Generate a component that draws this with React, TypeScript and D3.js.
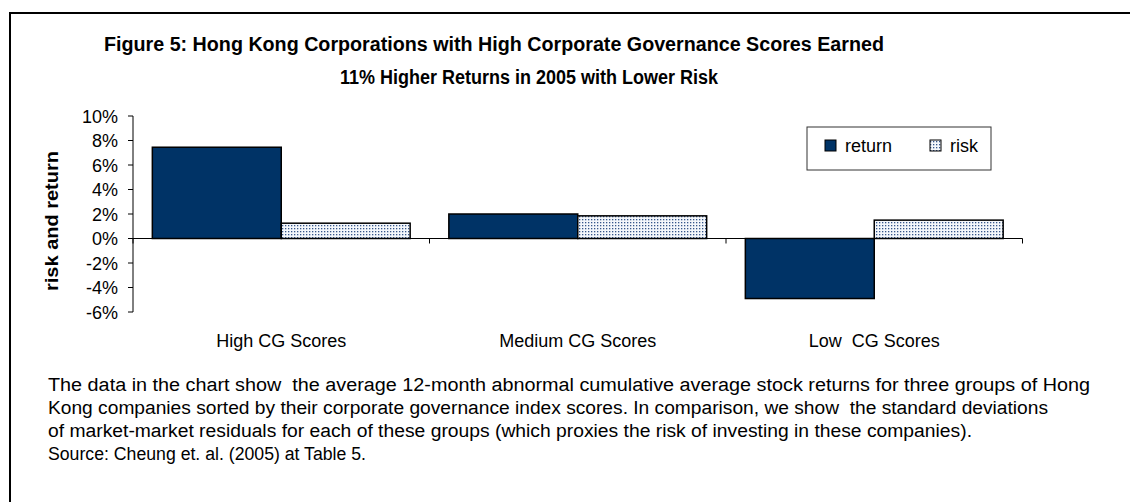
import React from "react";
import * as d3 from "d3";

const categories = ["High CG Scores", "Medium CG Scores", "Low  CG Scores"];
const seriesNames = ["return", "risk"];
const returnValues = [7.45, 2.0, -4.9];
const riskValues = [1.25, 1.85, 1.5];
const yTicks = [-6, -4, -2, 0, 2, 4, 6, 8, 10];
const titleLines = [
  "Figure 5: Hong Kong Corporations with High Corporate Governance Scores Earned",
  "11% Higher Returns in 2005 with Lower Risk",
];
const noteLines = [
  "The data in the chart show  the average 12-month abnormal cumulative average stock returns for three groups of Hong",
  "Kong companies sorted by their corporate governance index scores. In comparison, we show  the standard deviations",
  "of market-market residuals for each of these groups (which proxies the risk of investing in these companies).",
  "Source: Cheung et. al. (2005) at Table 5.",
];

const W = 1130;
const H = 502;
const FONT = "'Liberation Sans', Arial, sans-serif";
const NAVY = "#003366";

export default function App() {
  const plot = { left: 133, right: 1022.5, top: 116, bottom: 312 };
  const x0 = d3.scaleBand<string>().domain(categories).range([plot.left, plot.right]).padding(0);
  const x1 = d3
    .scaleBand<string>()
    .domain(seriesNames)
    .range([0, x0.bandwidth()])
    .paddingInner(0)
    .paddingOuter(0.15);
  const y = d3.scaleLinear().domain([-6, 10]).range([plot.bottom, plot.top]);
  const y0 = y(0);

  const bars: { cat: string; s: string; v: number }[] = [];
  categories.forEach((c, i) => {
    bars.push({ cat: c, s: "return", v: returnValues[i] });
    bars.push({ cat: c, s: "risk", v: riskValues[i] });
  });

  const boundaries = [...categories.map((c) => x0(c) as number), plot.right];

  const titleWidths = [780, 378];
  const titleX = [104, 340];
  const titleY = [51, 84];
  const noteWidths = [1042, 1000, 924, 318];
  const noteY = [391, 414, 437, 460];

  return (
    <svg
      width={W}
      height={H}
      style={{ position: "absolute", left: 0, top: 0, background: "#fff" }}
      fontFamily={FONT}
    >
      <defs>
        <pattern id="dots" width="3" height="3" patternUnits="userSpaceOnUse">
          <rect width="3" height="3" fill="#f4f7fb" />
          <rect x="0" y="0" width="1.3" height="1.3" fill="#36568a" />
        </pattern>
      </defs>
      <rect x={0} y={0} width={W} height={H} fill="#fff" />
      {/* outer border (top & left visible) */}
      <line x1={10} y1={13} x2={W} y2={13} stroke="#000" strokeWidth={2} />
      <line x1={10} y1={12} x2={10} y2={H} stroke="#000" strokeWidth={2} />

      {titleLines.map((t, i) => (
        <text
          key={t}
          x={titleX[i]}
          y={titleY[i]}
          fontSize={20}
          fontWeight="bold"
          textLength={titleWidths[i]}
          lengthAdjust="spacingAndGlyphs"
          fill="#000"
        >
          {t}
        </text>
      ))}

      {/* y axis */}
      <line x1={plot.left} y1={plot.top} x2={plot.left} y2={plot.bottom} stroke="#000" strokeWidth={1} />
      {yTicks.map((t) => (
        <g key={t}>
          <line x1={plot.left - 5} x2={plot.left} y1={y(t)} y2={y(t)} stroke="#000" />
          <text x={118} y={y(t) + 6.5} fontSize={18} textAnchor="end" fill="#000">
            {t + "%"}
          </text>
        </g>
      ))}
      <text
        transform={`translate(58, 221) rotate(-90)`}
        fontSize={18}
        fontWeight="bold"
        textAnchor="middle"
        textLength={140}
        lengthAdjust="spacingAndGlyphs"
        fill="#000"
      >
        risk and return
      </text>

      {/* bars */}
      {bars.map((b) => {
        const bx = (x0(b.cat) as number) + (x1(b.s) as number);
        const top = Math.min(y(b.v), y0);
        const h = Math.abs(y(b.v) - y0);
        return (
          <rect
            key={b.cat + b.s}
            x={bx}
            y={top}
            width={x1.bandwidth()}
            height={h}
            fill={b.s === "return" ? NAVY : "url(#dots)"}
            stroke="#000"
            strokeWidth={1.5}
          />
        );
      })}

      {/* x axis */}
      <line x1={plot.left} x2={plot.right} y1={y0} y2={y0} stroke="#000" strokeWidth={1} />
      {boundaries.map((bx, i) => (
        <line key={i} x1={bx} x2={bx} y1={y0} y2={y0 + 5} stroke="#000" />
      ))}
      {categories.map((c) => (
        <text
          key={c}
          x={(x0(c) as number) + x0.bandwidth() / 2}
          y={347}
          fontSize={18}
          textAnchor="middle"
          fill="#000"
          style={{ whiteSpace: "pre" }}
        >
          {c}
        </text>
      ))}

      {/* legend */}
      <rect x={807} y={127} width={184} height={43} fill="#fff" stroke="#333" strokeWidth={1} />
      {seriesNames.map((s, i) => {
        const lx = i === 0 ? 825 : 930;
        return (
          <g key={s}>
            <rect
              x={lx}
              y={140}
              width={11}
              height={11}
              fill={s === "return" ? NAVY : "url(#dots)"}
              stroke="#000"
              strokeWidth={1}
            />
            <text x={lx + 20} y={152} fontSize={18} fill="#000">
              {s}
            </text>
          </g>
        );
      })}

      {/* notes */}
      {noteLines.map((t, i) => (
        <text
          key={i}
          x={48}
          y={noteY[i]}
          fontSize={18}
          textLength={noteWidths[i]}
          lengthAdjust="spacingAndGlyphs"
          fill="#000"
          style={{ whiteSpace: "pre" }}
        >
          {t}
        </text>
      ))}
    </svg>
  );
}
